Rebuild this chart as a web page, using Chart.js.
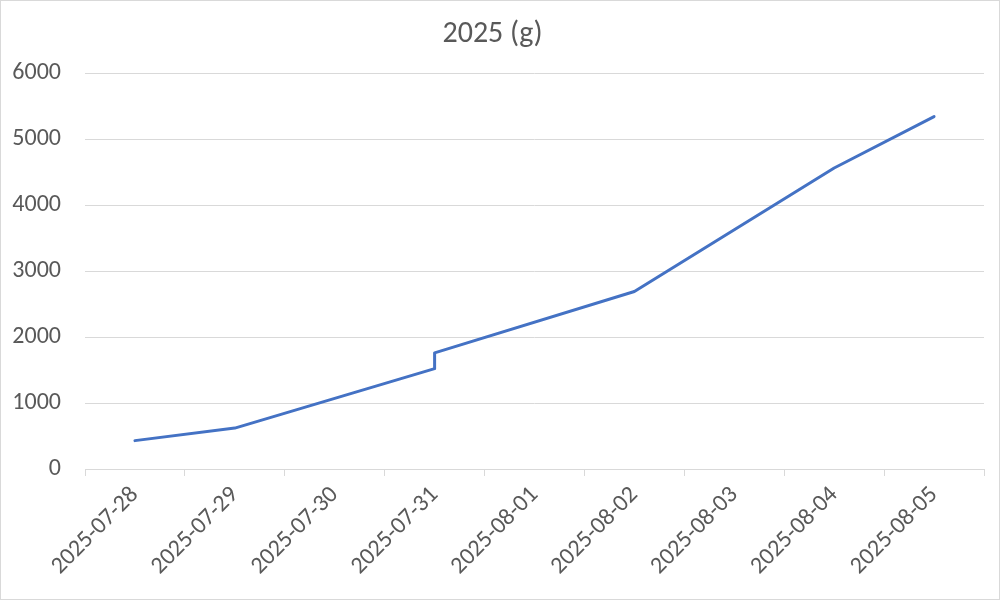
<!DOCTYPE html>
<html lang="en">
<head>
  <meta charset="UTF-8">
  <title>2025 (g)</title>
  <script src="https://cdn.jsdelivr.net/npm/chart.js"></script>
  <style>
    body { margin: 0; background: #fff; }
    #wrap { width: 1000px; height: 600px; box-sizing: border-box; border: 1px solid #d9d9d9; }
  </style>
</head>
<body>
  <div id="wrap"><canvas id="weightChart" width="998" height="598"></canvas></div>

  <script>
    // category labels on the x axis
    const dates = ["2025-07-28", "2025-07-29", "2025-07-30", "2025-07-31", "2025-08-01",
                   "2025-08-02", "2025-08-03", "2025-08-04", "2025-08-05"];
    // measured points (07-31 has two readings)
    const pointDates = ["2025-07-28", "2025-07-29", "2025-07-31", "2025-07-31", "2025-08-02", "2025-08-04", "2025-08-05"];
    const pointValues = [430, 620, 1520, 1760, 2690, 4560, 5340];
    const yTicks = [0, 1000, 2000, 3000, 4000, 5000, 6000];

    const textColor = "#595959";
    const gridColor = "#d9d9d9";
    const fontFamily = "Carlito, Calibri, 'Open Sans', sans-serif";

    const ctx = document.getElementById("weightChart").getContext("2d");
    new Chart(ctx, {
      type: "line",
      data: {
        labels: dates,
        datasets: [{
          label: "2025 (g)",
          data: pointDates.map((d, i) => ({ x: d, y: pointValues[i] })),
          borderColor: "#4472c4",
          borderWidth: 3,
          pointRadius: 0,
          tension: 0,
          borderCapStyle: "round",
          borderJoinStyle: "round",
          fill: false
        }]
      },
      options: {
        responsive: false,
        animation: false,
        layout: { padding: { left: 0, right: 15, top: 0, bottom: 0 } },
        plugins: {
          legend: { display: false },
          tooltip: { enabled: false },
          title: {
            display: true,
            text: "2025 (g)",
            color: textColor,
            font: { family: fontFamily, size: 30, weight: "normal" },
            padding: { top: 15, bottom: 21 }
          }
        },
        scales: {
          x: {
            type: "category",
            offset: true,
            grid: {
              offset: true,
              drawOnChartArea: false,
              color: gridColor,
              tickLength: 7
            },
            border: { color: gridColor, width: 1 },
            ticks: {
              color: textColor,
              font: { family: fontFamily, size: 24 },
              minRotation: 45,
              maxRotation: 45,
              padding: 5
            },
            afterFit: (scale) => { scale.height = 130; }
          },
          y: {
            min: 0,
            max: 6000,
            afterBuildTicks: (scale) => { scale.ticks = yTicks.map(v => ({ value: v })); },
            grid: { color: gridColor, drawTicks: false },
            border: { display: false },
            ticks: {
              color: textColor,
              font: { family: fontFamily, size: 24 },
              padding: 24,
              callback: (v) => String(v)
            },
            afterFit: (scale) => { scale.width = 84; }
          }
        }
      }
    });
  </script>
</body>
</html>
